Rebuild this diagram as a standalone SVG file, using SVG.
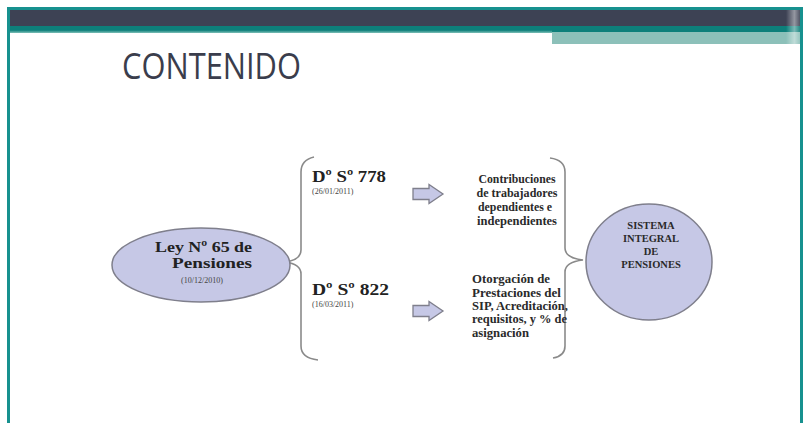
<svg xmlns="http://www.w3.org/2000/svg" width="806" height="423" viewBox="0 0 806 423">
<defs>
<style>
.node{fill:#c6c8e6;stroke:#7f7f8c;stroke-width:1.5}
.brace{fill:none;stroke:#8a8a8a;stroke-width:1.6}
.arrow{fill:#c6c8e6;stroke:#7f7f8c;stroke-width:1.3}
.b{font-family:"Liberation Serif","DejaVu Serif",serif;font-weight:bold;fill:#222}
.s{font-family:"Liberation Serif","DejaVu Serif",serif;fill:#444;font-size:8px}
.t{font-family:"Liberation Serif","DejaVu Serif",serif;font-weight:bold;fill:#2a2a2a;font-size:12px}
.c{font-family:"Liberation Serif","DejaVu Serif",serif;font-weight:bold;fill:#2a2a2a;font-size:10.5px;text-anchor:middle}
</style>
<linearGradient id="tealg" x1="0" y1="0" x2="0" y2="1">
<stop offset="0" stop-color="#0d7f7a"/>
<stop offset="0.6" stop-color="#0d7f7a"/>
<stop offset="1" stop-color="#7fc0b8"/>
</linearGradient>
<linearGradient id="fade" x1="0" y1="0" x2="1" y2="0">
<stop offset="0" stop-color="#ffffff" stop-opacity="0"/>
<stop offset="0.6" stop-color="#ffffff" stop-opacity="0.45"/>
<stop offset="1" stop-color="#ffffff" stop-opacity="0.1"/>
</linearGradient>
</defs>
<rect x="0" y="0" width="806" height="423" fill="#ffffff"/>
<g id="frame">
<rect x="10" y="10" width="790" height="16" fill="#3d4254"/>
<rect x="10" y="26" width="790" height="7" fill="url(#tealg)"/>
<rect x="552" y="32" width="248" height="12" fill="#8cc0b9"/>
<rect x="552" y="26" width="248" height="6" fill="#0d7f7a"/>
<rect x="786" y="10" width="14" height="34" fill="url(#fade)"/>
<path d="M8.5 423 V8.5 H801.5 V423" fill="none" stroke="#17918f" stroke-width="3"/>
</g>
<text x="122" y="79" font-family="'Open Sans','Liberation Sans',sans-serif" font-size="36" fill="#3a3d4c" textLength="179" lengthAdjust="spacingAndGlyphs">CONTENIDO</text>
<g id="connectors">
<path class="brace" d="M314 157 Q301 160 301 172 V250 Q301 260 285 262 Q301 264 301 274 V346 Q301 358 318 360"/>
<path class="brace" d="M550 158 Q565 160 565 172 V248 Q565 258 583 260 Q565 262 565 272 V346 Q565 356 553 358"/>
<path class="arrow" d="M413 188.5 H429 V184.5 L443 194 L429 203.5 V199.5 H413 Z"/>
<path class="arrow" d="M413 305.5 H429 V301.5 L443 311 L429 320.5 V316.5 H413 Z"/>
</g>
<g id="ley">
<ellipse class="node" cx="201" cy="265" rx="89" ry="37"/>
<text class="b" x="155" y="252" font-size="15.5" textLength="97" lengthAdjust="spacingAndGlyphs">Ley Nº 65 de</text>
<text class="b" x="172" y="268" font-size="15.5" textLength="80" lengthAdjust="spacingAndGlyphs">Pensiones</text>
<text class="s" x="202" y="283" text-anchor="middle">(10/12/2010)</text>
</g>
<g id="ds778">
<text class="b" x="312" y="182" font-size="17" textLength="74" lengthAdjust="spacingAndGlyphs">Dº Sº 778</text>
<text class="s" x="312" y="194">(26/01/2011)</text>
</g>
<g id="ds822">
<text class="b" x="312" y="295" font-size="17" textLength="77" lengthAdjust="spacingAndGlyphs">Dº Sº 822</text>
<text class="s" x="312" y="307">(16/03/2011)</text>
</g>
<g id="contribuciones">
<text class="t" x="517" y="183" text-anchor="middle" textLength="77" lengthAdjust="spacingAndGlyphs">Contribuciones</text>
<text class="t" x="517" y="197" text-anchor="middle" textLength="81" lengthAdjust="spacingAndGlyphs">de trabajadores</text>
<text class="t" x="515" y="211" text-anchor="middle" textLength="74" lengthAdjust="spacingAndGlyphs">dependientes e</text>
<text class="t" x="517" y="225" text-anchor="middle" textLength="80" lengthAdjust="spacingAndGlyphs">independientes</text>
</g>
<g id="otorgacion">
<text class="t" x="472" y="283" textLength="78" lengthAdjust="spacingAndGlyphs">Otorgación de</text>
<text class="t" x="472" y="297" textLength="89" lengthAdjust="spacingAndGlyphs">Prestaciones del</text>
<text class="t" x="472" y="310" textLength="96" lengthAdjust="spacingAndGlyphs">SIP, Acreditación,</text>
<text class="t" x="472" y="323" textLength="95" lengthAdjust="spacingAndGlyphs">requisitos, y % de</text>
<text class="t" x="472" y="337" textLength="57" lengthAdjust="spacingAndGlyphs">asignación</text>
</g>
<g id="sip">
<ellipse class="node" cx="649" cy="262" rx="63" ry="58"/>
<text class="c" x="651" y="229">SISTEMA</text>
<text class="c" x="651" y="242">INTEGRAL</text>
<text class="c" x="651" y="255">DE</text>
<text class="c" x="651" y="268">PENSIONES</text>
</g>
</svg>
